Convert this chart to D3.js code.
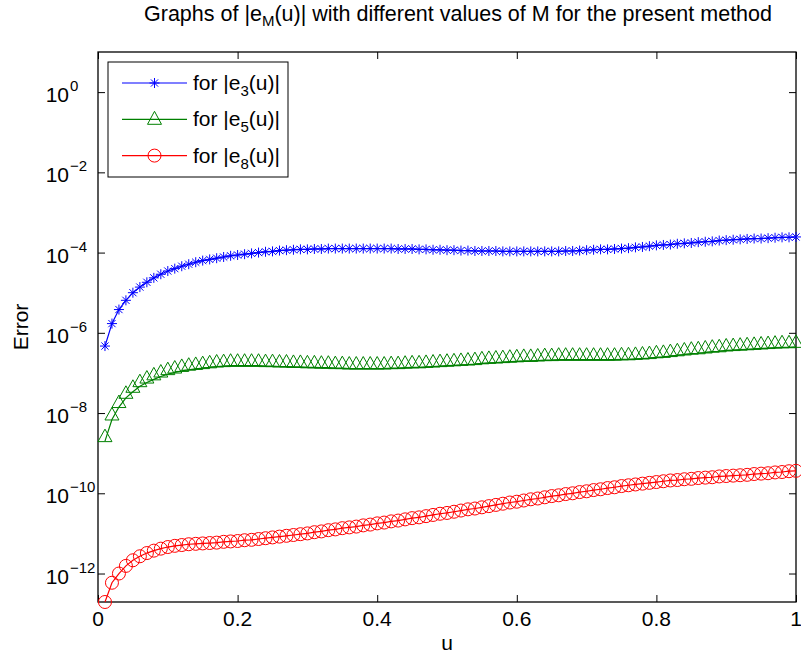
<!DOCTYPE html>
<html><head><meta charset="utf-8">
<script src="https://cdn.jsdelivr.net/npm/d3@7"></script>
<style>
body{margin:0;background:#fff;}
svg{display:block;font-family:"Liberation Sans",Arial,Helvetica,sans-serif;}
</style></head><body>
<svg id="chart" width="801" height="658"></svg>
<script>
// u values
const uValues = [0.01,0.02,0.03,0.04,0.05,0.06,0.07,0.08,0.09,0.10,
0.11,0.12,0.13,0.14,0.15,0.16,0.17,0.18,0.19,0.20,
0.21,0.22,0.23,0.24,0.25,0.26,0.27,0.28,0.29,0.30,
0.31,0.32,0.33,0.34,0.35,0.36,0.37,0.38,0.39,0.40,
0.41,0.42,0.43,0.44,0.45,0.46,0.47,0.48,0.49,0.50,
0.51,0.52,0.53,0.54,0.55,0.56,0.57,0.58,0.59,0.60,
0.61,0.62,0.63,0.64,0.65,0.66,0.67,0.68,0.69,0.70,
0.71,0.72,0.73,0.74,0.75,0.76,0.77,0.78,0.79,0.80,
0.81,0.82,0.83,0.84,0.85,0.86,0.87,0.88,0.89,0.90,
0.91,0.92,0.93,0.94,0.95,0.96,0.97,0.98,0.99,1.00];

// log10 of |e_3(u)|
const e3Log10 = [-6.33,-5.77,-5.42,-5.19,-5.00,-4.86,-4.74,-4.63,-4.54,-4.46,
-4.40,-4.34,-4.29,-4.24,-4.20,-4.17,-4.14,-4.11,-4.08,-4.06,
-4.04,-4.02,-4.00,-3.98,-3.97,-3.95,-3.94,-3.93,-3.92,-3.92,
-3.91,-3.91,-3.90,-3.90,-3.90,-3.90,-3.90,-3.90,-3.90,-3.90,
-3.90,-3.90,-3.91,-3.91,-3.91,-3.92,-3.92,-3.93,-3.93,-3.94,
-3.94,-3.95,-3.95,-3.96,-3.96,-3.96,-3.96,-3.97,-3.97,-3.97,
-3.97,-3.97,-3.97,-3.97,-3.97,-3.97,-3.96,-3.96,-3.95,-3.94,
-3.93,-3.92,-3.92,-3.91,-3.90,-3.89,-3.87,-3.86,-3.84,-3.82,
-3.81,-3.80,-3.78,-3.77,-3.76,-3.74,-3.73,-3.72,-3.70,-3.69,
-3.68,-3.67,-3.66,-3.65,-3.65,-3.64,-3.63,-3.62,-3.62,-3.61];

// log10 of |e_5(u)|
const e5Log10 = [-8.70,-8.16,-7.85,-7.62,-7.47,-7.33,-7.24,-7.16,-7.09,-7.03,
-6.99,-6.95,-6.92,-6.90,-6.88,-6.86,-6.84,-6.83,-6.82,-6.82,
-6.82,-6.82,-6.82,-6.83,-6.83,-6.84,-6.84,-6.85,-6.85,-6.86,
-6.86,-6.87,-6.87,-6.88,-6.88,-6.89,-6.89,-6.89,-6.89,-6.89,
-6.89,-6.88,-6.88,-6.87,-6.86,-6.86,-6.85,-6.84,-6.83,-6.82,
-6.81,-6.80,-6.79,-6.78,-6.76,-6.75,-6.74,-6.73,-6.72,-6.71,
-6.70,-6.70,-6.69,-6.68,-6.68,-6.67,-6.67,-6.67,-6.67,-6.67,
-6.67,-6.67,-6.67,-6.67,-6.66,-6.66,-6.65,-6.64,-6.63,-6.61,
-6.60,-6.58,-6.56,-6.54,-6.52,-6.51,-6.49,-6.47,-6.46,-6.44,
-6.43,-6.42,-6.41,-6.40,-6.39,-6.38,-6.37,-6.36,-6.36,-6.35];

// log10 of |e_8(u)|
const e8Log10 = [-12.71,-12.23,-12.00,-11.81,-11.67,-11.57,-11.49,-11.43,-11.38,-11.34,
-11.31,-11.29,-11.27,-11.26,-11.25,-11.24,-11.23,-11.21,-11.20,-11.19,
-11.17,-11.16,-11.14,-11.12,-11.10,-11.08,-11.06,-11.04,-11.02,-11.00,
-10.97,-10.95,-10.92,-10.90,-10.87,-10.85,-10.83,-10.80,-10.78,-10.75,
-10.73,-10.70,-10.68,-10.65,-10.62,-10.60,-10.57,-10.54,-10.51,-10.49,
-10.46,-10.43,-10.40,-10.38,-10.35,-10.32,-10.29,-10.26,-10.23,-10.21,
-10.18,-10.15,-10.13,-10.10,-10.07,-10.05,-10.02,-10.00,-9.97,-9.95,
-9.92,-9.90,-9.87,-9.85,-9.82,-9.80,-9.78,-9.76,-9.74,-9.72,
-9.70,-9.68,-9.67,-9.65,-9.64,-9.62,-9.61,-9.60,-9.58,-9.57,
-9.56,-9.55,-9.54,-9.52,-9.51,-9.50,-9.48,-9.47,-9.45,-9.44];

const xTicks = [0, 0.2, 0.4, 0.6, 0.8, 1];
const xTickLabels = ["0", "0.2", "0.4", "0.6", "0.8", "1"];
const yTickExponents = [-12, -10, -8, -6, -4, -2, 0];
const yMaxExponent = 1;
const seriesNames = ["3", "5", "8"];
const seriesColors = ["#0000ff", "#008000", "#ff0000"];
const seriesMarkers = ["star", "triangle", "circle"];

const svg = d3.select("#chart");
const L = 98, R = 796, T = 52, B = 602;
const FS = 21;

const x = d3.scaleLinear().domain([0, 1]).range([L, R]);
const y = d3.scaleLog().domain([Math.pow(10, d3.min(e8Log10)), Math.pow(10, yMaxExponent)]).range([B, T]);

const seriesLog = [e3Log10, e5Log10, e8Log10];
const series = seriesLog.map((arr, k) => ({
  name: seriesNames[k], color: seriesColors[k], marker: seriesMarkers[k],
  pts: arr.map((e, i) => ({u: uValues[i], v: Math.pow(10, e)}))
}));

// axes box
svg.append("rect").attr("x", L).attr("y", T).attr("width", R - L).attr("height", B - T)
  .attr("fill", "none").attr("stroke", "#000").attr("stroke-width", 1.3);

const tk = 7;
function styleAxis(g){ g.select(".domain").remove(); g.selectAll(".tick line").attr("stroke","#000").attr("stroke-width",1); }
svg.append("g").attr("transform", `translate(0,${B})`)
  .call(d3.axisBottom(x).tickValues(xTicks).tickSize(-tk).tickFormat(() => "")).call(styleAxis);
svg.append("g").attr("transform", `translate(0,${T})`)
  .call(d3.axisTop(x).tickValues(xTicks).tickSize(-tk).tickFormat(() => "")).call(styleAxis);
const yTickVals = yTickExponents.map(e => Math.pow(10, e));
svg.append("g").attr("transform", `translate(${L},0)`)
  .call(d3.axisLeft(y).tickValues(yTickVals).tickSize(-tk).tickFormat(() => "")).call(styleAxis);
svg.append("g").attr("transform", `translate(${R},0)`)
  .call(d3.axisRight(y).tickValues(yTickVals).tickSize(-tk).tickFormat(() => "")).call(styleAxis);

// x tick labels
svg.append("g").selectAll("text").data(xTicks).join("text")
  .attr("x", d => x(d)).attr("y", B + 24).attr("text-anchor", "middle")
  .attr("font-size", FS).text((d, i) => xTickLabels[i]);

// y tick labels
const yl = svg.append("g").selectAll("g").data(yTickExponents).join("g")
  .attr("transform", e => `translate(0,${y(Math.pow(10, e))})`);
yl.append("text").attr("x", 69).attr("y", 10).attr("text-anchor", "end").attr("font-size", FS).text("10");
yl.append("text").attr("x", 70).attr("y", -1).attr("font-size", 15)
  .text(e => e < 0 ? "\u2212" + Math.abs(e) : String(e));

// axis labels
svg.append("text").attr("x", (L + R) / 2).attr("y", 650).attr("text-anchor", "middle").attr("font-size", FS).text("u");
svg.append("text").attr("transform", `translate(28,${(T + B) / 2}) rotate(-90)`).attr("text-anchor", "middle")
  .attr("font-size", FS).text("Error");

// title
const title = svg.append("text").attr("x", 458).attr("y", 21).attr("text-anchor", "middle").attr("font-size", 21.5);
title.append("tspan").text("Graphs of |e");
title.append("tspan").attr("font-size", 15).attr("dy", 5).text("M");
title.append("tspan").attr("dy", -5).text("(u)| with different values of M for the present method");

// marker drawing
function drawMarker(g, type, color, legend){
  if (type === "star"){
    const s = 5;
    g.append("path").attr("d", `M0,${-s}V${s}M${-s},0H${s}M${-s*0.72},${-s*0.72}L${s*0.72},${s*0.72}M${-s*0.72},${s*0.72}L${s*0.72},${-s*0.72}`)
      .attr("stroke", color).attr("stroke-width", 1).attr("fill", "none");
  } else if (type === "triangle"){
    const top = legend ? -8 : -12, base = legend ? 5 : 0.5, w = 7;
    g.append("path").attr("d", `M0,${top}L${w},${base}L${-w},${base}Z`)
      .attr("stroke", color).attr("stroke-width", 1).attr("fill", "none");
  } else {
    g.append("circle").attr("r", 6.5).attr("stroke", color).attr("stroke-width", 1).attr("fill", "none");
  }
}

const line = d3.line().x(d => x(d.u)).y(d => y(d.v));
series.forEach(s => {
  svg.append("path").datum(s.pts).attr("d", line).attr("fill", "none").attr("stroke", s.color).attr("stroke-width", 1.2);
  const mg = svg.append("g");
  s.pts.forEach(p => {
    const g = mg.append("g").attr("transform", `translate(${x(p.u)},${y(p.v)})`);
    drawMarker(g, s.marker, s.color, false);
  });
});

// legend
const lg = svg.append("g");
lg.append("rect").attr("x", 108).attr("y", 62).attr("width", 180).attr("height", 115)
  .attr("fill", "#fff").attr("stroke", "#000").attr("stroke-width", 1);
series.forEach((s, k) => {
  const ry = 83 + k * 36.3;
  lg.append("line").attr("x1", 122).attr("x2", 187).attr("y1", ry).attr("y2", ry).attr("stroke", s.color).attr("stroke-width", 1.2);
  const g = lg.append("g").attr("transform", `translate(154.5,${ry})`);
  drawMarker(g, s.marker, s.color, true);
  const t = lg.append("text").attr("x", 193).attr("y", ry + 7).attr("font-size", FS);
  t.append("tspan").text("for |e");
  t.append("tspan").attr("font-size", 15).attr("dy", 6).text(s.name);
  t.append("tspan").attr("dy", -6).text("(u)|");
});
</script>
</body></html>
